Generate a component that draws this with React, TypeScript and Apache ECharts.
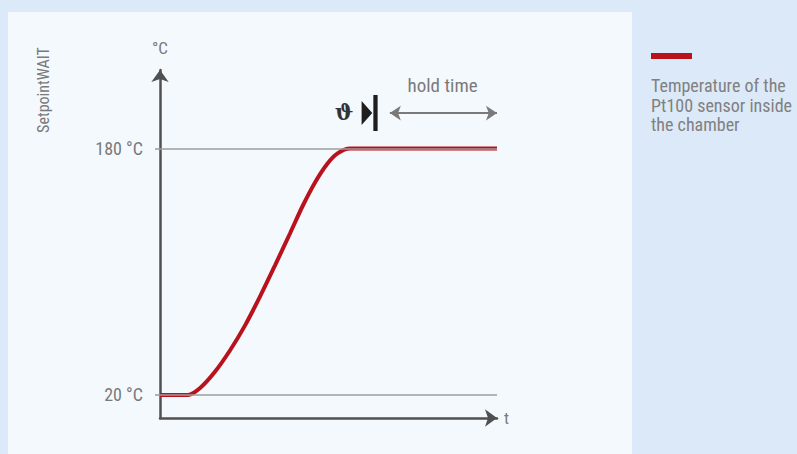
import React, { useEffect, useRef } from "react";
import * as echarts from "echarts";

// ---- data ----
const TIME: number[] = [0, 8.3, 11.9, 16.3, 20.8, 25.2, 29.7, 34.1, 38.6, 42.4, 46, 49.6, 52.8, 56.4, 100];
const TEMP: number[] = [20, 20, 24.5, 35, 49, 65, 84, 104, 125, 143, 158, 170, 177, 180, 180];
const LEVELS: number[] = [20, 180];
const LEVEL_LABEL = (v: number) => `${v} °C`;
const HOLD_START = 67.7;
const HOLD_END = 100;
const HOLD_LEVEL = 203;
const Y_MIN = 5;
const Y_MAX = 231;
const SIDE_LABEL = "SetpointWAIT";
const Y_NAME = "°C";
const X_NAME = "t";
const HOLD_TEXT = "hold time";
const THETA = "ϑ";
const LEGEND_LINES: string[] = ["Temperature of the", "Pt100 sensor inside", "the chamber"];

const FONT = "'Liberation Sans Narrow', 'Roboto Condensed', 'Open Sans', sans-serif";
const RED = "#b8121d";
const AXIS = "#505050";
const LABEL = "#7a7a7a";

export default function App() {
  const ref = useRef<HTMLDivElement>(null);
  useEffect(() => {
    document.body.style.margin = "0";
    if (!ref.current) return;
    const chart = echarts.init(ref.current, null, { renderer: "svg" });
    const option: any = {
      animation: false,
      backgroundColor: "#dce9f8",
      textStyle: { fontFamily: FONT },
      grid: { left: 160, right: 300, top: 70, bottom: 36, outerBoundsMode: "none" },
      graphic: [
        { type: "rect", z: -10, shape: { x: 8, y: 12, width: 624, height: 450 }, style: { fill: "#f4f9fd" } },
        {
          type: "text",
          x: 43,
          y: 90,
          rotation: Math.PI / 2,
          style: { text: SIDE_LABEL, fill: LABEL, font: `16px ${FONT}`, align: "center", verticalAlign: "middle" },
        },
        { type: "rect", shape: { x: 651, y: 53, width: 41, height: 6 }, style: { fill: RED } },
        {
          type: "text",
          x: 651,
          y: 76,
          style: { text: LEGEND_LINES.join("\n"), fill: "#808080", font: `18px ${FONT}`, lineHeight: 19.5, align: "left", verticalAlign: "top" },
        },
      ],
      xAxis: {
        type: "value",
        min: 0,
        max: 100,
        name: X_NAME,
        nameLocation: "end",
        nameGap: 7,
        nameTextStyle: { color: LABEL, fontSize: 17, fontFamily: FONT },
        axisLine: { show: true, symbol: ["none", "arrow"], symbolSize: [13, 12], lineStyle: { color: AXIS, width: 2.5 } },
        axisTick: { show: false },
        axisLabel: { show: false },
        splitLine: { show: false },
      },
      yAxis: {
        type: "value",
        min: Y_MIN,
        max: Y_MAX,
        name: Y_NAME,
        nameLocation: "end",
        nameGap: 14,
        nameTextStyle: { color: LABEL, fontSize: 17, fontFamily: FONT, align: "right", padding: [0, -8, 0, 0] },
        axisLine: { show: true, symbol: ["none", "arrow"], symbolSize: [13, 12], lineStyle: { color: AXIS, width: 2.5 } },
        axisTick: { show: true, customValues: LEVELS, length: 5, lineStyle: { color: "#999", width: 1.5 } },
        axisLabel: {
          show: true,
          customValues: LEVELS,
          formatter: (v: number) => LEVEL_LABEL(v),
          margin: 17,
          color: LABEL,
          fontSize: 18,
          fontFamily: FONT,
        },
        splitLine: { show: false },
      },
      series: [
        {
          type: "line",
          data: [],
          z: 1,
          clip: false,
          silent: true,
          markLine: {
            silent: true,
            symbol: "none",
            label: { show: false },
            lineStyle: { color: "#9c9c9c", width: 1.5, type: "solid" },
            data: [
              ...LEVELS.map((v) => ({ yAxis: v })),
              [
                { coord: [HOLD_START, Y_MIN], lineStyle: { color: "#8c8c8c", width: 1.2 } },
                { coord: [HOLD_START, 237] },
              ],
            ],
          },
        },
        {
          type: "line",
          data: [],
          z: 2,
          clip: false,
          silent: true,
          markLine: {
            silent: true,
            symbol: ["arrow", "arrow"],
            symbolSize: [11, 11],
            label: { show: false },
            lineStyle: { color: "#7a7a7a", width: 2, type: "solid" },
            data: [[{ coord: [HOLD_START + 0.5, HOLD_LEVEL] }, { coord: [HOLD_END, HOLD_LEVEL] }]],
          },
          markPoint: {
            silent: true,
            data: [
              {
                coord: [(HOLD_START + HOLD_END) / 2, 221],
                symbol: "rect",
                symbolSize: 1,
                itemStyle: { color: "rgba(0,0,0,0)" },
                label: { show: true, position: "inside", formatter: HOLD_TEXT, color: LABEL, fontSize: 19, fontFamily: FONT },
              },
              {
                coord: [54.6, 203.7],
                symbol: "rect",
                symbolSize: 1,
                itemStyle: { color: "rgba(0,0,0,0)" },
                label: { show: true, position: "inside", formatter: THETA, color: "#333", fontSize: 22, fontWeight: "bold", fontFamily: "DejaVu Serif" },
              },
              {
                coord: [62.2, 203],
                symbol: "path://M0,6 L10,18 L0,30 Z M11,0 L15,0 L15,36 L11,36 Z",
                symbolSize: [16, 36],
                itemStyle: { color: "#1e1e1e" },
                label: { show: false },
              },
            ],
          },
        },
        {
          type: "line",
          name: LEGEND_LINES.join(" "),
          z: 3,
          data: TIME.map((t, i) => [t, TEMP[i]]),
          smooth: 0.3,
          symbol: "none",
          lineStyle: { color: RED, width: 4 },
          silent: true,
        },
      ],
    };
    chart.setOption(option);
    return () => chart.dispose();
  }, []);
  return <div ref={ref} style={{ width: 797, height: 454 }} />;
}
